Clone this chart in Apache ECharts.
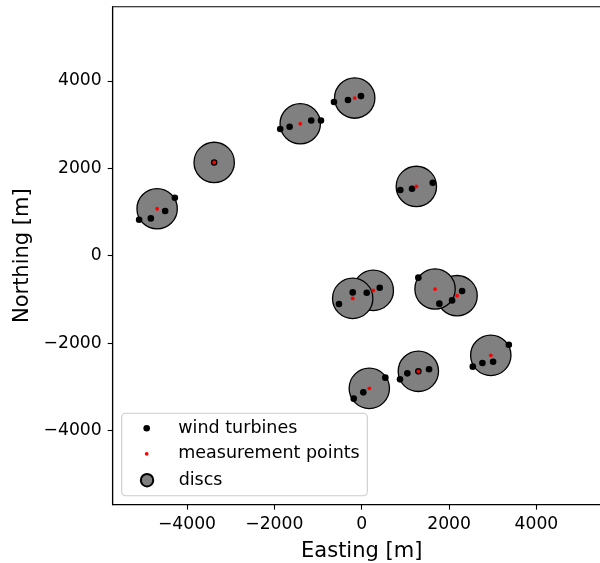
<!DOCTYPE html>
<html>
<head>
<meta charset="utf-8">
<title>Wind farm layout</title>
<script src="https://cdn.jsdelivr.net/npm/echarts@6/dist/echarts.min.js"></script>
<style>
  html, body { margin: 0; padding: 0; background: #fff; }
  #chart { width: 600px; height: 563px; }
</style>
</head>
<body>
<div id="chart"></div>
<script>
// Turbine positions (Easting / Northing, metres)
const turbineEast  = [-5095, -4827, -4499, -4277, -3377, -1865, -1650, -1155, -932,
                      -635, -314, -16, 884, 1152, 1626, -520, -206, 115, 412,
                      1297, 1778, 2069, 2298, -183, 37, 541, 877, 1045, 1297, 1542,
                      2543, 2763, 3008, 3368];
const turbineNorth = [824, 854, 1023, 1327, 2135, 2899, 2952, 3096, 3096,
                      3517, 3563, 3654, 1503, 1533, 1670, -1105, -840, -847, -732,
                      -503, -1098, -1023, -808, -3272, -3128, -2792, -2830, -2693, -2647, -2601,
                      -2540, -2456, -2426, -2037];

// Measurement points; each one is the centre of a disc
const pointEast  = [-4683, -3377, -1407, -160, 1251, 266, -206, 2183, 1679, 174, 1297, 2955];
const pointNorth = [1075, 2135, 3021, 3609, 1586, -794, -977, -915, -763, -3037, -2647, -2281];

// Disc radius in metres
const discRadius = 462;

// Axis extent and tick values
const axisMin = -5700;
const axisMax = 5700;
const tickValues = [-4000, -2000, 0, 2000, 4000];

const legendNames = ['wind turbines', 'measurement points', 'discs'];

const FONT = 'DejaVu Sans';
const turbines = turbineEast.map((e, i) => [e, turbineNorth[i]]);
const points = pointEast.map((e, i) => [e, pointNorth[i]]);

const fmt = v => (v < 0 ? '\u2212' + Math.abs(v) : String(v));

const chart = echarts.init(document.getElementById('chart'), null, { renderer: 'canvas' });

function axisCommon(name) {
  return {
    type: 'value',
    min: axisMin,
    max: axisMax,
    name: name,
    nameLocation: 'middle',
    nameTextStyle: { fontFamily: FONT, fontSize: 21, color: '#000' },
    axisLine: { show: true, onZero: false, lineStyle: { color: '#000', width: 1.1 } },
    axisTick: { show: true, length: 5, customValues: tickValues, lineStyle: { color: '#000', width: 1.1 } },
    axisLabel: { customValues: tickValues, formatter: fmt, fontFamily: FONT, fontSize: 17.2, color: '#000' },
    splitLine: { show: false }
  };
}

// One legend row per series so each marker keeps its own size.
// The row's box starts at the marker's left edge; the marker is centred at x = 146.7.
function legendRow(name, size, stroke, centerY) {
  const w = 53.2;
  const half = size / 2 + stroke / 2;
  return {
    data: [{ name: name, icon: 'circle' }],
    orient: 'vertical',
    left: 146.7 - half,
    top: centerY - 10,
    padding: 0,
    itemWidth: w,
    itemHeight: size,
    z: 5,
    selectedMode: false,
    textStyle: { fontFamily: FONT, fontSize: 17.5, color: '#000', lineHeight: 20 }
  };
}

const xAxis = Object.assign(axisCommon('Easting [m]'), { nameGap: 36 });
xAxis.axisLabel.margin = 11;
const yAxis = Object.assign(axisCommon('Northing [m]'), { nameGap: 68, nameRotate: 90 });
yAxis.axisLabel.margin = 11;
yAxis.axisLabel.padding = [2, 0, 0, 0];

chart.setOption({
  animation: false,
  backgroundColor: '#fff',
  grid: {
    left: 112.7, top: 6.7, width: 498, height: 498,
    outerBoundsMode: 'none',
    containLabel: false,
    show: true, borderColor: '#000', borderWidth: 1.1, backgroundColor: 'transparent'
  },
  xAxis: xAxis,
  yAxis: yAxis,
  legend: [
    legendRow(legendNames[0], 6.6, 0, 428.3),
    legendRow(legendNames[1], 3.8, 0, 453.8),
    legendRow(legendNames[2], 12.4, 1.3, 480.2)
  ],
  graphic: [{
    type: 'rect',
    z: 4,
    shape: { x: 121.7, y: 413.3, width: 245.6, height: 82.4, r: 4 },
    style: { fill: 'rgba(255,255,255,0.8)', stroke: '#cccccc', lineWidth: 1.1 }
  }],
  series: [
    {
      name: legendNames[2],
      type: 'scatter',
      data: points,
      symbol: 'circle',
      symbolSize: 40,
      itemStyle: { color: '#808080', borderColor: '#000', borderWidth: 1.3, opacity: 1 },
      z: 2
    },
    {
      name: legendNames[0],
      type: 'scatter',
      data: turbines,
      symbol: 'circle',
      symbolSize: 6.6,
      itemStyle: { color: '#000', opacity: 1 },
      z: 3
    },
    {
      name: legendNames[1],
      type: 'scatter',
      data: points,
      symbol: 'circle',
      symbolSize: 3.8,
      itemStyle: { color: '#ff0000', opacity: 1 },
      z: 4
    }
  ]
});

// Size the discs from their radius in metres using the axis scale
const p0 = chart.convertToPixel({ gridIndex: 0 }, [0, 0]);
const p1 = chart.convertToPixel({ gridIndex: 0 }, [discRadius, 0]);
const discPx = 2 * Math.abs(p1[0] - p0[0]);
chart.setOption({ series: [{ name: legendNames[2], symbolSize: discPx }] });
</script>
</body>
</html>
